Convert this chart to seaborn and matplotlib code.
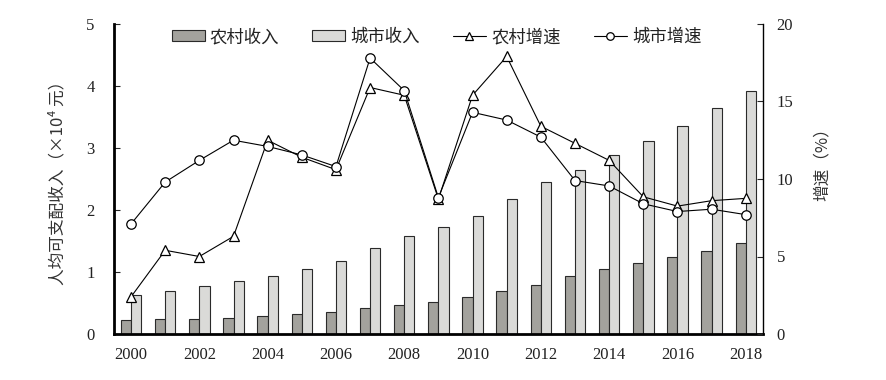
import matplotlib
matplotlib.use("Agg")
import matplotlib.pyplot as plt
import numpy as np
import pandas as pd
import seaborn as sns

sns.set_theme(style="white")
plt.rcParams['font.family'] = ['Noto Sans CJK SC', 'DejaVu Sans']

years = list(range(2000, 2019))
# per-capita disposable income, x10^4 yuan
rural_income = [0.225, 0.237, 0.248, 0.262, 0.294, 0.326, 0.359, 0.414, 0.476, 0.515,
                0.592, 0.698, 0.792, 0.943, 1.049, 1.142, 1.236, 1.343, 1.462]
urban_income = [0.628, 0.686, 0.770, 0.847, 0.942, 1.049, 1.176, 1.379, 1.578, 1.718,
                1.911, 2.181, 2.457, 2.647, 2.884, 3.120, 3.362, 3.640, 3.925]
# growth rate, %
rural_growth = [2.4, 5.4, 5.0, 6.3, 12.5, 11.4, 10.6, 15.9, 15.4, 8.7,
                15.4, 17.9, 13.4, 12.3, 11.2, 8.85, 8.25, 8.6, 8.75]
urban_growth = [7.1, 9.8, 11.2, 12.5, 12.1, 11.55, 10.8, 17.8, 15.7, 8.8,
                14.3, 13.8, 12.7, 9.9, 9.55, 8.4, 7.9, 8.05, 7.7]

rural_lbl, urban_lbl = "农村收入", "城市收入"
df = pd.DataFrame({
    "year": [str(y) for y in years] * 2,
    "kind": [rural_lbl] * len(years) + [urban_lbl] * len(years),
    "income": rural_income + urban_income,
})

fig = plt.figure(figsize=(8.87, 3.8), dpi=100)
ax = fig.add_axes([0.1285, 0.121, 0.7315, 0.816])

sns.barplot(data=df, x="year", y="income", hue="kind", ax=ax,
            palette=["#a3a29d", "#dadad8"], width=0.6, gap=0,
            edgecolor="#2a2a2a", linewidth=0.8, saturation=1, legend=False)

ax.set_xlim(-0.5, len(years) - 0.5)
ax.set_ylim(0, 5)
ax.set_yticks(range(0, 6))
ax.set_xticks(range(0, len(years), 2))
ax.set_xticklabels([str(y) for y in years[::2]])
ax.set_xlabel("")
ax.set_ylabel("人均可支配收入（×10⁴ 元）", fontsize=12, color="#333", labelpad=14)

for s in ["top", "right"]:
    ax.spines[s].set_visible(False)
ax.spines["left"].set_linewidth(2)
ax.spines["bottom"].set_linewidth(2)
ax.spines["left"].set_color("black")
ax.spines["bottom"].set_color("black")
ax.tick_params(axis="y", direction="in", length=4, width=0.8, pad=14,
               labelsize=12, labelcolor="#222", left=True)
ax.tick_params(axis="x", length=0, pad=9, labelsize=12, labelcolor="#222")
for t in ax.get_xticklabels() + ax.get_yticklabels():
    t.set_family(["Liberation Serif", "DejaVu Serif"])

ax2 = ax.twinx()
x = np.arange(len(years))
sns.lineplot(x=x, y=rural_growth, ax=ax2, color="black", linewidth=0.8,
             marker="^", markersize=7, markerfacecolor="white",
             markeredgecolor="black", markeredgewidth=0.9, label="农村增速")
sns.lineplot(x=x, y=urban_growth, ax=ax2, color="black", linewidth=0.8,
             marker="o", markersize=6.8, markerfacecolor="white",
             markeredgecolor="black", markeredgewidth=0.9, label="城市增速")
ax2.set_ylim(0, 20)
ax2.set_yticks(range(0, 21, 5))
ax2.set_ylabel("增速（%）", fontsize=12, color="#333")
ax2.yaxis.set_label_coords(1.078, 0.56)
for s in ["top", "left", "bottom"]:
    ax2.spines[s].set_visible(False)
ax2.spines["right"].set_color("black")
ax2.spines["right"].set_linewidth(1)
ax2.tick_params(axis="y", direction="in", length=4, width=0.8, pad=10,
                labelsize=12, labelcolor="#222", right=True)
for t in ax2.get_yticklabels():
    t.set_family(["Liberation Serif", "DejaVu Serif"])

bar_handles = [ax.containers[0].patches[0], ax.containers[1].patches[0]]
line_handles, line_labels = ax2.get_legend_handles_labels()
ax2.legend(bar_handles + line_handles, [rural_lbl, urban_lbl] + line_labels,
           loc="center", bbox_to_anchor=(0.497, 0.958), ncol=4, frameon=False,
           fontsize=12.5, handlelength=1.9, handleheight=0.6, columnspacing=1.9,
           handletextpad=0.3, labelcolor="#222", markerscale=0.8,
           borderaxespad=0, borderpad=0)

fig.savefig("out.png", dpi=100)
